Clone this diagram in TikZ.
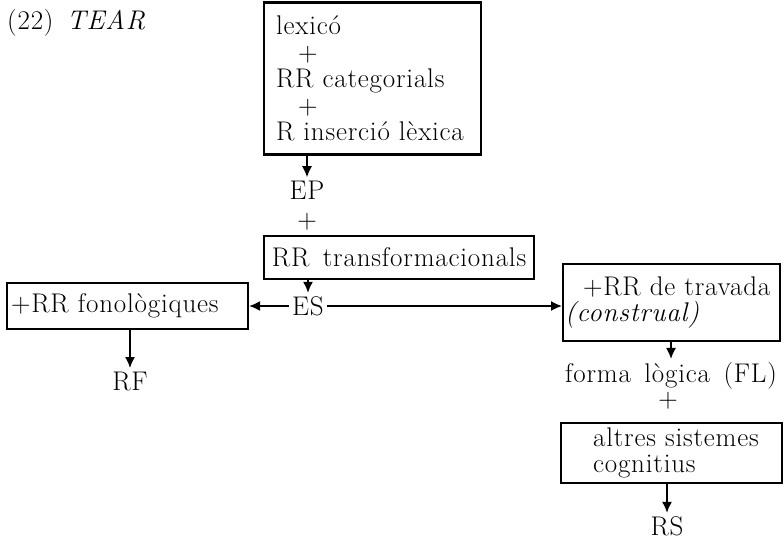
\documentclass[tikz,border=0pt]{standalone}
\usepackage{fontspec}
\setmainfont{Latin Modern Roman}[WordSpace=1.5,LetterSpace=3]
\usetikzlibrary{arrows.meta,positioning}

\begin{document}
\begin{tikzpicture}[x=1pt,y=-1pt,
  every node/.style={font=\fontsize{27}{26.5}\selectfont},
  box/.style={draw,line width=2.1pt,align=left},
  arr/.style={line width=1.6pt,-{Latex[length=11pt,width=10pt]}}]
\useasboundingbox (0,0) rectangle (784,540);

\node (title) [anchor=base west,inner sep=0pt] at (7,30) {(22)\ \textit{TEAR}};

\node (lex) [box,anchor=north west,text width=193pt,inner xsep=12pt,minimum height=152pt] at (263,1.5) {lexicó\\\hspace*{22pt}+\\RR categorials\\\hspace*{22pt}+\\R inserció lèxica};
\node (ep) at (307,190) {EP};
\node (p1) at (307,222) {+};
\node (tr) [box,anchor=north west,minimum width=270pt,minimum height=43pt] at (263,235) {RR transformacionals};
\node (es) at (308,306) {ES};

\node (fon) [box,anchor=west,text width=233pt,inner xsep=4pt,minimum height=46pt] at (6,306) {+RR fonològiques};
\node (rf) at (130,381) {RF};

\node (tra) [box,anchor=north west,text width=213pt,inner xsep=2pt,minimum height=77pt] at (562,263) {\hspace*{18pt}+RR de travada\\\textit{(construal)}};
\node (fl) at (671,376) {forma lògica (FL)};
\node (p2) at (668,401) {+};
\node (alt) [box,anchor=north west,text width=189pt,inner xsep=16pt,minimum height=60pt] at (560,422) {\hspace*{16pt}altres sistemes\\\hspace*{16pt}cognitius};
\node (rs) at (667,526) {RS};

\foreach \a/\b in {lex/ep,tr/es,fon/rf,tra/fl,alt/rs}
  \draw[arr] (\a.south -| \b.north) -- (\b.north);
\draw[arr] (es) -- (fon);
\draw[arr] (es.east) -- (es.east -| tra.west);
\end{tikzpicture}
\end{document}
